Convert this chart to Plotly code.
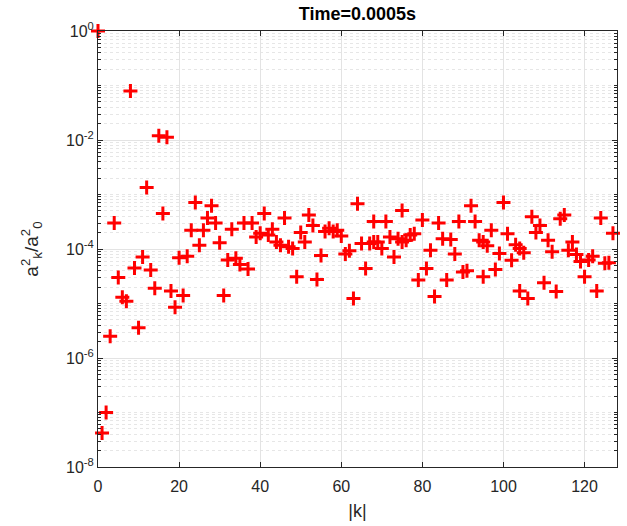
import plotly.graph_objects as go

# |k| wavenumbers (duplicates where two points share the same |k|)
k_vals = [0, 1, 2, 3, 4, 5, 6, 7, 8, 9, 10, 11, 12, 13, 14, 15, 16, 17, 18, 19,
          20, 21, 22, 23, 24, 25, 26, 27, 28, 29, 30, 31, 32, 33, 34, 35, 36, 37, 38, 39,
          40, 41, 42, 43, 44, 45, 46, 47, 48, 49, 50, 51, 52, 53, 54, 55, 56, 57, 58, 59,
          60, 61, 62, 63, 64, 65, 66, 67, 68, 68, 69, 70, 71, 72, 73, 74, 75, 75, 76, 77,
          78, 79, 80, 81, 82, 83, 84, 85, 86, 87, 88, 89, 90, 91, 92, 93, 94, 95, 95, 96,
          97, 98, 99, 100, 101, 102, 103, 104, 104, 105, 106, 107, 108, 109, 110, 111, 112, 113, 114, 115,
          116, 117, 118, 119, 120, 121, 122, 123, 124, 125, 126, 127]

# a_k^2 / a_0^2
ratio_vals = [1.0, 4.2e-8, 1.0e-7, 2.5e-6, 3.0e-4, 3.0e-5, 1.3e-5, 1.1e-5, 7.9e-2, 4.5e-5,
              3.6e-6, 7.1e-5, 1.35e-3, 4.1e-5, 1.9e-5, 1.2e-2, 4.5e-4, 1.12e-2, 1.7e-5, 8.5e-6,
              6.9e-5, 1.4e-5, 7.4e-5, 2.2e-4, 7.1e-4, 1.17e-4, 2.2e-4, 3.7e-4, 6.2e-4, 3.0e-4,
              1.3e-4, 1.4e-5, 6.3e-5, 2.3e-4, 6.8e-5, 5.2e-5, 3.0e-4, 4.3e-5, 3.0e-4, 1.66e-4,
              1.95e-4, 4.5e-4, 1.8e-4, 2.3e-4, 1.35e-4, 1.17e-4, 3.7e-4, 1.1e-4, 1.02e-4, 3.1e-5,
              2.0e-4, 1.35e-4, 4.2e-4, 2.7e-4, 2.75e-5, 7.6e-5, 2.1e-4, 2.4e-4, 2.1e-4, 2.2e-4,
              1.74e-4, 8.1e-5, 9.3e-5, 1.23e-5, 6.8e-4, 1.26e-4, 4.4e-5, 1.26e-4, 1.35e-4, 3.2e-4,
              1.35e-4, 1.02e-4, 3.2e-4, 1.66e-4, 7.1e-5, 1.55e-4, 5.1e-4, 1.35e-4, 1.45e-4, 1.8e-4,
              1.9e-4, 2.7e-5, 3.4e-4, 4.4e-5, 9.5e-5, 1.35e-5, 3.0e-4, 1.55e-4, 2.7e-5, 1.5e-4,
              8.1e-5, 3.2e-4, 3.8e-5, 4.0e-5, 6.2e-4, 3.2e-4, 1.45e-4, 3.1e-5, 1.35e-4, 1.15e-4,
              2.2e-4, 4.2e-5, 8.3e-5, 7.1e-4, 1.9e-4, 6.2e-5, 1.2e-4, 1.7e-5, 1.02e-4, 8.5e-5,
              1.23e-5, 3.9e-4, 2.0e-4, 2.7e-4, 2.4e-5, 1.45e-4, 8.9e-5, 1.66e-5, 3.6e-4, 4.2e-4,
              9.5e-5, 1.35e-4, 7.9e-5, 5.9e-5, 3.1e-5, 6.3e-5, 7.4e-5, 1.7e-5, 3.7e-4, 5.5e-5,
              5.6e-5, 1.95e-4]

x_ticks = [0, 20, 40, 60, 80, 100, 120]
y_ticks = [1e-8, 1e-6, 1e-4, 1e-2, 1]
y_tick_text = ["10<sup>-8</sup>", "10<sup>-6</sup>", "10<sup>-4</sup>", "10<sup>-2</sup>", "10<sup>0</sup>"]
y_minor = [d * 10.0 ** e for e in range(-8, 0) for d in range(1, 10) if not (d == 1 and e % 2 == 0)]

title_text = "Time=0.0005s"
x_label = "|k|"
y_label = "a<sup>2</sup><sub>k</sub>/a<sup>2</sup><sub>0</sub>"

AX = "#262626"
FONT = "Liberation Sans, Arial, sans-serif"
W, H = 627, 526

fig = go.Figure()
fig.add_trace(go.Scatter(
    x=k_vals, y=ratio_vals, mode="markers", cliponaxis=False,
    marker=dict(symbol="cross-thin", size=10, color="red",
                line=dict(color="red", width=3)),
    showlegend=False,
))

fig.update_layout(
    width=W, height=H,
    margin=dict(l=98, r=10, t=31, b=59, autoexpand=False),
    paper_bgcolor="white", plot_bgcolor="white",
    font=dict(family=FONT, color=AX, size=16),
    title=dict(text="<b>" + title_text + "</b>", x=0.5, xref="paper", xanchor="center",
               y=1 - 14 / H, yref="container", yanchor="middle",
               font=dict(family=FONT, size=18, color="black")),
)

fig.update_xaxes(
    range=[0, 128], tickvals=x_ticks, ticks="inside", ticklen=5, tickcolor=AX,
    showline=True, linecolor=AX, linewidth=1, mirror="ticks",
    showgrid=True, gridcolor="#e3e3e3", gridwidth=1, zeroline=False,
    tickfont=dict(size=16, color=AX), ticklabelstandoff=5,
    title=dict(text=x_label, font=dict(size=18, color=AX), standoff=10),
)

fig.update_yaxes(
    type="log", range=[-8, 0], tickmode="array", tickvals=y_ticks, ticktext=y_tick_text,
    ticks="inside", ticklen=5, tickcolor=AX,
    showline=True, linecolor=AX, linewidth=1, mirror="ticks",
    showgrid=True, gridcolor="#e3e3e3", gridwidth=1, zeroline=False,
    tickfont=dict(size=16, color=AX),
    minor=dict(tickmode="array", tickvals=y_minor, ticks="inside", ticklen=3, tickcolor=AX,
               showgrid=True, gridcolor="#e6e6e6", griddash="dot", gridwidth=1),
    title=dict(text=y_label, font=dict(size=19, color=AX), standoff=22),
)

fig.write_html("out.html", config={"displayModeBar": False},
               post_script="document.body.style.margin='0px';")
